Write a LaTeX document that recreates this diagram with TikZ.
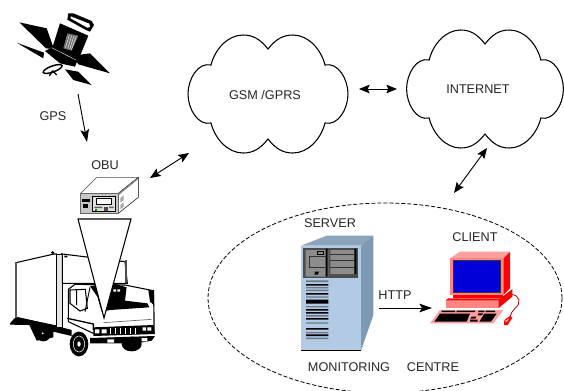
\documentclass[tikz,border=0pt]{standalone}
\usepackage{fontspec}
\setmainfont{Liberation Sans}
\usetikzlibrary{arrows.meta}
\tikzset{
  lab/.style={font=\fontsize{9.5}{11}\selectfont,text=black!85,inner sep=0pt},
  cloudline/.style={draw=black,line width=.8pt,fill=white},
  conn/.style={line width=.7pt,black},
  one/.style={conn,-{Stealth[length=9.5pt,width=6.5pt,inset=2pt]}},
  both/.style={conn,{Stealth[length=8pt,width=6.5pt,inset=1.5pt]}-{Stealth[length=8pt,width=6.5pt,inset=1.5pt]}},
  zoomed/.style={x=.25pt,y=-.25pt},
  cloudshape/.pic={
    \path[cloudline] (0,-45)
      .. controls (8,-55) and (15,-59) .. (25,-59)
      .. controls (40,-59) and (53,-45) .. (57,-29)
      .. controls (70,-32) and (80,-15) .. (80,0)
      .. controls (80,15) and (70,32) .. (57,29)
      .. controls (53,45) and (40,59) .. (25,59)
      .. controls (15,59) and (8,55) .. (0,45)
      .. controls (-8,55) and (-15,59) .. (-25,59)
      .. controls (-40,59) and (-53,45) .. (-57,29)
      .. controls (-70,32) and (-80,15) .. (-80,0)
      .. controls (-80,-15) and (-70,-32) .. (-57,-29)
      .. controls (-53,-45) and (-40,-59) .. (-25,-59)
      .. controls (-15,-59) and (-8,-55) .. (0,-45) -- cycle;
  }
}
\definecolor{srvfront}{HTML}{B2CAE3}
\definecolor{srvside}{HTML}{7E99B4}
\definecolor{srvtop}{HTML}{8CA4BE}
\definecolor{pink1}{HTML}{FF8585}
\definecolor{pink2}{HTML}{FFA0A0}
\begin{document}
\begin{tikzpicture}[x=.75pt,y=-.75pt]
\useasboundingbox (0,0) rectangle (564,390);
\fill[white] (0,0) rectangle (564,390);

% clouds
\pic at (268,94) {cloudshape};
\pic[xscale=.98] at (485,89) {cloudshape};
\node[lab] (gsm) at (265,95) {GSM /GPRS};
\node[lab] (inet) at (478,89) {INTERNET};

% monitoring centre
\begin{scope}
\clip (0,0) rectangle (564,390);
\draw[black,line width=.6pt,dash pattern=on 3pt off 1.5pt] (385,298) ellipse [x radius=177,y radius=95];
\end{scope}

% satellite
\begin{scope}[shift={(10,5)},zoomed]
\fill[black] (28,52) -- (110,70) -- (132,132) -- (108,130) -- cycle;
\fill[black] (20,113) -- (102,143) -- (100,160) -- cycle;
\fill[black] (190,152) -- (240,145) -- (300,205) -- (205,178) -- cycle;
\fill[black] (165,193) -- (205,200) -- (245,240) -- (190,225) -- cycle;
\fill[black] (150,55) -- (235,92) -- (205,165) -- (128,125) -- cycle;
\fill[black] (105,138) -- (130,125) -- (205,160) -- (195,185) -- (150,175) -- cycle;
\draw[white,line width=.3pt] (125,128) -- (198,165);
\fill[black!55] (172,85) -- (205,92) -- (185,137) -- (160,130) -- cycle;
\draw[white,line width=.3pt] (178,90) -- (166,128) (185,92) -- (173,130) (192,93) -- (179,132) (199,94) -- (184,134);
\fill[black] (175,25) -- (190,25) -- (245,48) -- (252,60) -- (240,80) -- (228,75) -- (172,44) -- cycle;
\fill[white] (182,34) -- (238,56) -- (240,66) -- (232,68) -- (182,40) -- cycle;
\filldraw[fill=white,draw=black,line width=1.1pt,rotate around={20:(128,192)}] (128,192) ellipse [x radius=30,y radius=9];
\draw[black,line width=1pt] (128,197) -- (118,213) (128,197) -- (140,210);
\end{scope}

% OBU
\begin{scope}[shift={(75,170)},zoomed]
\filldraw[fill=white,draw=black!70,line width=.35pt] (17,70) -- (65,22) -- (190,22) -- (130,70) -- cycle;
\filldraw[fill=white,draw=black,line width=.4pt] (130,70) -- (190,22) -- (190,82) -- (130,130) -- cycle;
\fill[black!50] (130,70) -- (190,22) -- (190,27) -- (130,76) -- cycle;
\fill[black!35] (136,84) -- (146,76) -- (146,90) -- (136,98) -- cycle (136,105) -- (146,97) -- (146,110) -- (136,118) -- cycle;
\filldraw[fill=black!22,draw=black!60,line width=.35pt] (17,70) rectangle (130,130);
\fill[black] (20,88) rectangle (44,95);
\fill[black] (25,102) rectangle (38,113);
\filldraw[fill=black!12,draw=black,line width=.35pt] (53,78) rectangle (120,125);
\filldraw[fill=white,draw=black,line width=.35pt] (65,84) rectangle (108,104);
\fill[black!70] (86,110) rectangle (98,122);
\fill[black!60] (58,110) rectangle (82,114) (102,110) rectangle (116,114);
\fill[green!50!black] (60,118) rectangle (65,122);
\end{scope}

% truck
\begin{scope}[shift={(10,250)},zoomed]
\filldraw[fill=white,draw=black,line width=.8pt] (18,38) -- (132,12) -- (140,12) -- (140,228) -- (18,203) -- cycle;
\fill[black] (0,220) -- (18,200) -- (140,228) -- (185,240) -- (185,258) -- (130,245) -- (130,262) -- (80,272) -- (58,225) -- (0,224) -- cycle;
\fill[black] (100,250) circle (24);
\fill[white] (98,250) circle (3);
\fill[black!65] (14,35) rectangle (21,205);
\filldraw[fill=black!10,draw=black,line width=.6pt] (140,12) rectangle (157,232);
\filldraw[fill=white,draw=black,line width=.8pt] (157,12) -- (345,35) -- (352,100) -- (157,100) -- cycle;
\fill[black] (128,8) circle (5) (155,12) circle (3) (163,17) rectangle (172,22);
\fill[black!70] (345,30) rectangle (352,100);
% cab
\filldraw[fill=white,draw=black,line width=.8pt] (175,118) -- (195,103) -- (345,105) -- (430,122) -- (432,190) -- (432,245) -- (250,250) -- (175,215) -- cycle;
\fill[black] (262,140) -- (240,108) -- (310,100) -- (350,112) -- (345,152) -- (412,160) -- (418,172) -- (300,180) -- (275,185) -- cycle;
\fill[white] (350,115) -- (395,120) -- (412,156) -- (352,148) -- cycle;
\fill[white] (310,118) rectangle (318,125) (322,118) rectangle (330,125);
\fill[black] (415,120) -- (432,120) -- (432,165) -- (420,155) -- cycle;
\filldraw[fill=white,draw=black,line width=.8pt] (180,120) -- (226,118) -- (232,175) -- (210,183) -- (180,160) -- cycle;
\draw[black,line width=.7pt] (200,120) -- (200,165) (240,112) -- (225,185);
\draw[black,line width=1pt] (172,205) -- (250,222) -- (250,240);
% front
\fill[black] (250,232) -- (430,225) -- (435,252) -- (250,258) -- cycle;
\fill[white] (255,238) rectangle (268,250) (275,238) rectangle (290,250);
\draw[white,line width=.4pt] (300,235) -- (300,252) (315,235) -- (315,252) (330,235) -- (330,252) (345,235) -- (345,252) (360,235) -- (360,252) (375,235) -- (375,252);
\fill[white] (398,232) rectangle (408,242) (412,232) rectangle (424,242);
\draw[black!60,line width=.5pt] (280,218) -- (425,208);
\fill[black] (240,264) -- (435,258) -- (425,272) -- (380,280) -- (240,280) -- cycle;
\fill[white] (292,268) rectangle (312,278) (395,264) rectangle (412,274);
% wheels
\fill[black] (365,282) ellipse [x radius=30,y radius=22];
\fill[black] (207,282) ellipse [x radius=28,y radius=37];
\draw[white,line width=.4pt] (207,282) ellipse [x radius=17,y radius=24];
\fill[white] (207,282) ellipse [x radius=5,y radius=8];
\end{scope}

% server
\begin{scope}[shift={(295,230)},zoomed]
\filldraw[fill=srvtop,draw=none] (18,47) -- (95,17) -- (235,17) -- (198,47) -- cycle;
\filldraw[fill=srvside,draw=none] (198,47) -- (235,17) -- (235,255) -- (198,362) -- cycle;
\filldraw[fill=srvfront,draw=none] (18,47) rectangle (198,362);
\draw[black,line width=1.2pt] (18,361) -- (198,361);
\fill[black!70] (25,54) rectangle (188,145);
\fill[black!45] (32,60) rectangle (100,140) (106,60) rectangle (180,132);
\fill[black] (92,56) rectangle (98,140) (178,56) rectangle (184,132);
\draw[black!80,line width=.5pt] (106,72) -- (178,72) (106,92) -- (178,92) (106,112) -- (178,112) (42,80) -- (92,80) (42,80) -- (42,112) -- (90,112);
\fill[black] (66,62) rectangle (86,74);
\fill[black!45] (70,65) rectangle (84,71);
\fill[black] (60,125) -- (72,125) -- (68,134) -- (58,134) -- cycle;
\fill[black!40!srvfront] (33,151) rectangle (100,156) (33,171) rectangle (100,175) (33,179) rectangle (100,183) (33,199) rectangle (100,203) (33,228) rectangle (100,232) (33,255) rectangle (100,260) (33,277) rectangle (100,281) (33,306) rectangle (100,310) (33,323) rectangle (100,327);
\fill[black] (33,162) rectangle (100,167) (33,189) rectangle (100,194) (33,209) rectangle (100,221) (33,237) rectangle (100,242) (33,246) rectangle (100,251) (33,264) rectangle (100,269) (33,294) rectangle (100,299) (33,313) rectangle (100,318);
\end{scope}

% client
\begin{scope}[shift={(425,245)},zoomed]
\draw[red!70!black,line width=.6pt] (258,148) .. controls (285,150) and (290,175) .. (270,190) .. controls (262,198) and (258,205) .. (255,215);
\fill[red] (235,40) -- (255,20) -- (255,130) -- (235,150) -- cycle;
\fill[pink2] (75,40) -- (105,20) -- (255,20) -- (235,40) -- cycle;
\fill[pink1] (75,40) rectangle (235,150);
\fill[black!80] (84,44) rectangle (229,145);
\fill[blue!85!black] (87,47) rectangle (226,142);
\fill[red] (85,150) rectangle (235,160);
\fill[red] (220,165) -- (262,132) -- (262,155) -- (220,190) -- cycle;
\fill[pink1] (62,165) rectangle (220,188);
\fill[red] (70,160) -- (230,160) -- (220,166) -- (62,166) -- cycle;
\fill[pink2] (15,235) -- (45,195) -- (235,195) -- (205,235) -- cycle;
\fill[black] (50,197) rectangle (90,201) (95,197) rectangle (150,201) (160,197) rectangle (178,201) (182,197) rectangle (210,201);
\fill[black] (45,206) -- (135,206) -- (125,230) -- (28,230) -- cycle;
\fill[black] (140,215) -- (155,215) -- (150,221) -- (136,221) -- cycle (135,224) rectangle (158,230) (160,205) -- (175,205) -- (170,211) -- (158,211) -- cycle;
\fill[black] (178,206) -- (215,206) -- (198,230) -- (163,230) -- cycle;
\fill[red] (238,225) -- (255,213) -- (262,218) -- (248,240) -- (237,240) -- cycle;
\fill[pink2] (240,228) -- (250,221) -- (252,224) -- (243,232) -- cycle;
\end{scope}

% OBU to truck wedge
\coordinate (w1) at (78,219);
\coordinate (w2) at (131,219);
\coordinate (w3) at (104,318);
\filldraw[fill=white,draw=black,line width=.8pt,line join=miter] (w1) -- (w2) -- (w3) -- cycle;

% labels
\node[lab] (gps) at (53,116) {GPS};
\node[lab] (obu) at (105,165) {OBU};
\node[lab] (server) at (330,223) {SERVER};
\node[lab] (client) at (475,237) {CLIENT};
\node[lab] (http) at (395,295) {HTTP};
\node[lab] (mon) at (349,367) {MONITORING};
\node[lab] (cen) at (433,367) {CENTRE};

% connector ends
\coordinate (satOut) at (78,94);
\coordinate (obuIn) at (87,142);
\coordinate (obuLink) at (150,178);
\coordinate (gsmLink) at (189,153);
\coordinate (gsmRight) at (359,89);
\coordinate (inetLeft) at (397,89);
\coordinate (inetDown) at (487,148);
\coordinate (centreUp) at (454,193);
\coordinate (srvOut) at (379,308);
\coordinate (cliIn) at (432,308);
\draw[one] (satOut) -- (obuIn);
\draw[both] (obuLink) -- (gsmLink);
\draw[both] (gsmRight) -- (inetLeft);
\draw[both] (inetDown) -- (centreUp);
\draw[one] (srvOut) -- (cliIn);
\end{tikzpicture}
\end{document}
